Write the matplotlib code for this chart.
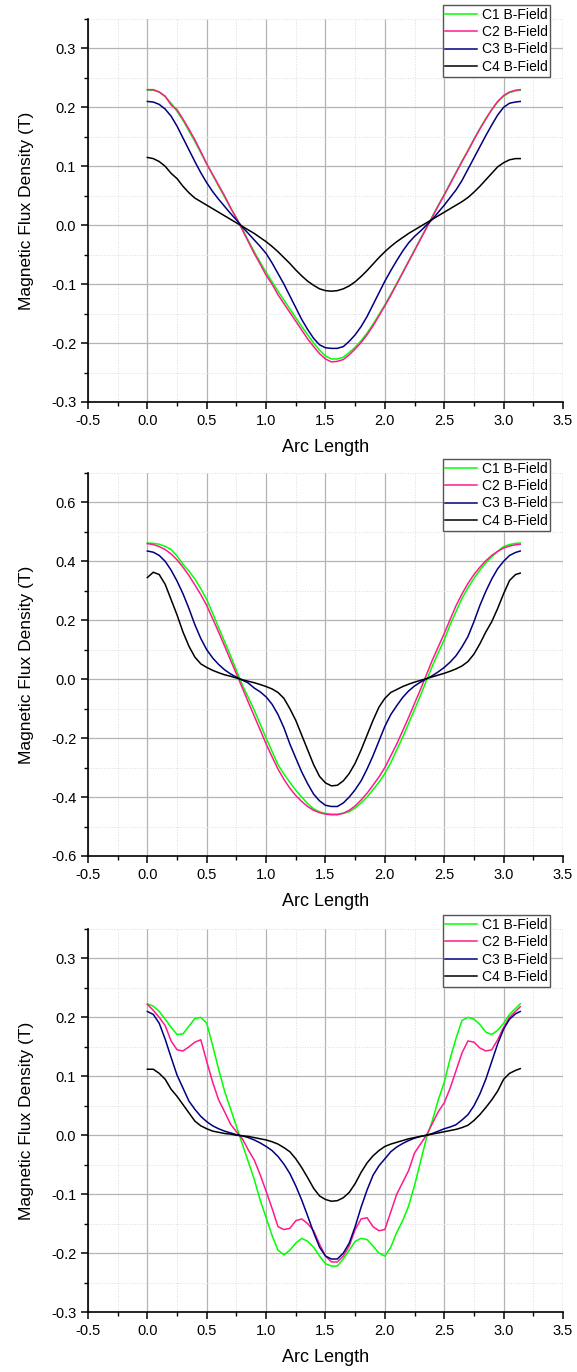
import numpy as np
import matplotlib
matplotlib.use("Agg")
import matplotlib.pyplot as plt
from matplotlib.ticker import MultipleLocator, FormatStrFormatter

plt.rcParams['font.family'] = ['Liberation Sans', 'DejaVu Sans']

# arc length samples (shared by all curves)
arc = [0.00, 0.05, 0.10, 0.15, 0.20, 0.25, 0.30, 0.35, 0.40, 0.45,
       0.50, 0.55, 0.60, 0.65, 0.70, 0.75, 0.80, 0.85, 0.90, 0.95,
       1.00, 1.05, 1.10, 1.15, 1.20, 1.25, 1.30, 1.35, 1.40, 1.45,
       1.50, 1.55, 1.60, 1.65, 1.70, 1.75, 1.80, 1.85, 1.90, 1.95,
       2.00, 2.05, 2.10, 2.15, 2.20, 2.25, 2.30, 2.35, 2.40, 2.45,
       2.50, 2.55, 2.60, 2.65, 2.70, 2.75, 2.80, 2.85, 2.90, 2.95,
       3.00, 3.05, 3.10, 3.14]

labels = ["C1 B-Field", "C2 B-Field", "C3 B-Field", "C4 B-Field"]
colors = ["#00ff00", "#ff1a8c", "#000080", "#000000"]

# --- panel 1 ---
p1_c1 = [0.229, 0.229, 0.226, 0.218, 0.207, 0.193, 0.178, 0.160, 0.142, 0.123,
         0.104, 0.085, 0.066, 0.048, 0.029, 0.012, -0.006, -0.026, -0.045, -0.063,
         -0.080, -0.096, -0.112, -0.127, -0.142, -0.157, -0.172, -0.186, -0.200, -0.212,
         -0.222, -0.227, -0.227, -0.224, -0.216, -0.207, -0.196, -0.183, -0.168, -0.152,
         -0.135, -0.117, -0.099, -0.080, -0.061, -0.042, -0.023, -0.004, 0.015, 0.034,
         0.052, 0.071, 0.090, 0.109, 0.127, 0.146, 0.164, 0.181, 0.196, 0.209,
         0.219, 0.225, 0.228, 0.229]
p1_c2 = [0.230, 0.230, 0.226, 0.219, 0.204, 0.196, 0.180, 0.163, 0.145, 0.125,
         0.104, 0.086, 0.068, 0.050, 0.030, 0.012, -0.008, -0.028, -0.048, -0.066,
         -0.085, -0.100, -0.118, -0.133, -0.148, -0.163, -0.178, -0.193, -0.206, -0.218,
         -0.227, -0.232, -0.231, -0.228, -0.220, -0.210, -0.199, -0.186, -0.171, -0.154,
         -0.137, -0.119, -0.100, -0.081, -0.062, -0.043, -0.024, -0.005, 0.014, 0.033,
         0.051, 0.070, 0.089, 0.108, 0.126, 0.145, 0.163, 0.180, 0.196, 0.210,
         0.220, 0.226, 0.229, 0.230]
p1_c3 = [0.210, 0.209, 0.205, 0.197, 0.185, 0.168, 0.148, 0.128, 0.108, 0.089,
         0.072, 0.057, 0.044, 0.032, 0.020, 0.009, -0.003, -0.014, -0.025, -0.036,
         -0.048, -0.064, -0.082, -0.100, -0.120, -0.140, -0.160, -0.177, -0.192, -0.203,
         -0.208, -0.209, -0.209, -0.206, -0.197, -0.186, -0.172, -0.155, -0.135, -0.115,
         -0.095, -0.077, -0.060, -0.044, -0.030, -0.019, -0.010, 0.000, 0.010, 0.022,
         0.034, 0.047, 0.060, 0.076, 0.095, 0.114, 0.133, 0.152, 0.170, 0.187,
         0.200, 0.207, 0.209, 0.210]
p1_c4 = [0.115, 0.113, 0.108, 0.100, 0.088, 0.079, 0.066, 0.055, 0.046, 0.040,
         0.034, 0.028, 0.022, 0.016, 0.010, 0.004, -0.002, -0.008, -0.014, -0.021,
         -0.028, -0.036, -0.045, -0.055, -0.065, -0.076, -0.086, -0.095, -0.102, -0.108,
         -0.111, -0.112, -0.111, -0.108, -0.103, -0.096, -0.087, -0.077, -0.066, -0.055,
         -0.045, -0.036, -0.028, -0.021, -0.014, -0.008, -0.002, 0.004, 0.010, 0.016,
         0.022, 0.028, 0.034, 0.040, 0.047, 0.056, 0.066, 0.077, 0.088, 0.099,
         0.106, 0.111, 0.113, 0.113]

# --- panel 2 ---
p2_c1 = [0.462, 0.461, 0.458, 0.451, 0.440, 0.418, 0.390, 0.367, 0.340, 0.307,
         0.270, 0.224, 0.175, 0.128, 0.080, 0.030, -0.020, -0.062, -0.105, -0.152,
         -0.200, -0.245, -0.290, -0.322, -0.350, -0.377, -0.400, -0.422, -0.440, -0.450,
         -0.456, -0.458, -0.458, -0.455, -0.450, -0.437, -0.420, -0.400, -0.375, -0.350,
         -0.320, -0.283, -0.240, -0.197, -0.150, -0.103, -0.055, -0.005, 0.045, 0.090,
         0.134, 0.185, 0.230, 0.275, 0.310, 0.342, 0.370, 0.395, 0.415, 0.434,
         0.450, 0.457, 0.461, 0.462]
p2_c2 = [0.460, 0.457, 0.450, 0.440, 0.425, 0.405, 0.380, 0.352, 0.320, 0.287,
         0.250, 0.205, 0.160, 0.113, 0.065, 0.018, -0.030, -0.078, -0.125, -0.172,
         -0.220, -0.263, -0.305, -0.340, -0.370, -0.395, -0.415, -0.432, -0.445, -0.453,
         -0.458, -0.460, -0.460, -0.455, -0.445, -0.430, -0.410, -0.387, -0.360, -0.332,
         -0.300, -0.260, -0.220, -0.175, -0.130, -0.082, -0.035, 0.015, 0.065, 0.110,
         0.155, 0.203, 0.250, 0.290, 0.325, 0.355, 0.380, 0.402, 0.420, 0.434,
         0.445, 0.452, 0.456, 0.458]
p2_c3 = [0.435, 0.431, 0.420, 0.400, 0.370, 0.333, 0.290, 0.240, 0.185, 0.138,
         0.100, 0.072, 0.050, 0.032, 0.018, 0.007, -0.003, -0.013, -0.030, -0.043,
         -0.060, -0.085, -0.120, -0.165, -0.220, -0.268, -0.315, -0.355, -0.390, -0.413,
         -0.428, -0.432, -0.432, -0.420, -0.400, -0.375, -0.345, -0.305, -0.260, -0.210,
         -0.160, -0.120, -0.090, -0.062, -0.040, -0.023, -0.010, 0.001, 0.012, 0.025,
         0.040, 0.058, 0.080, 0.110, 0.145, 0.195, 0.250, 0.298, 0.340, 0.375,
         0.400, 0.420, 0.430, 0.435]
p2_c4 = [0.345, 0.363, 0.355, 0.322, 0.270, 0.218, 0.160, 0.112, 0.075, 0.052,
         0.040, 0.030, 0.022, 0.015, 0.010, 0.004, -0.002, -0.007, -0.012, -0.018,
         -0.025, -0.033, -0.045, -0.065, -0.100, -0.140, -0.190, -0.240, -0.290, -0.330,
         -0.352, -0.362, -0.360, -0.345, -0.320, -0.285, -0.240, -0.190, -0.140, -0.095,
         -0.065, -0.045, -0.035, -0.025, -0.017, -0.010, -0.004, 0.002, 0.008, 0.014,
         0.020, 0.027, 0.035, 0.045, 0.060, 0.085, 0.120, 0.160, 0.195, 0.240,
         0.290, 0.335, 0.355, 0.360]

# --- panel 3 ---
p3_c1 = [0.223, 0.219, 0.210, 0.197, 0.183, 0.171, 0.172, 0.185, 0.198, 0.200,
         0.190, 0.152, 0.112, 0.075, 0.045, 0.015, -0.015, -0.045, -0.075, -0.110,
         -0.140, -0.170, -0.195, -0.203, -0.195, -0.183, -0.175, -0.180, -0.190, -0.205,
         -0.218, -0.222, -0.222, -0.210, -0.195, -0.180, -0.175, -0.177, -0.188, -0.200,
         -0.205, -0.190, -0.165, -0.145, -0.120, -0.085, -0.045, -0.005, 0.025, 0.060,
         0.090, 0.130, 0.165, 0.195, 0.200, 0.197, 0.188, 0.175, 0.171, 0.178,
         0.190, 0.205, 0.215, 0.223]
p3_c2 = [0.222, 0.212, 0.200, 0.186, 0.160, 0.145, 0.143, 0.150, 0.158, 0.162,
         0.125, 0.090, 0.060, 0.040, 0.019, 0.006, -0.006, -0.025, -0.042, -0.067,
         -0.095, -0.124, -0.155, -0.160, -0.158, -0.145, -0.142, -0.150, -0.162, -0.185,
         -0.205, -0.215, -0.215, -0.205, -0.188, -0.160, -0.142, -0.140, -0.155, -0.162,
         -0.160, -0.130, -0.100, -0.080, -0.060, -0.030, -0.015, 0.000, 0.020, 0.040,
         0.055, 0.080, 0.110, 0.140, 0.160, 0.158, 0.148, 0.143, 0.145, 0.162,
         0.183, 0.200, 0.210, 0.218]
p3_c3 = [0.210, 0.205, 0.190, 0.163, 0.132, 0.102, 0.080, 0.058, 0.044, 0.032,
         0.023, 0.016, 0.011, 0.007, 0.004, 0.001, -0.001, -0.004, -0.008, -0.013,
         -0.019, -0.026, -0.036, -0.049, -0.065, -0.086, -0.110, -0.137, -0.165, -0.190,
         -0.205, -0.210, -0.210, -0.200, -0.183, -0.155, -0.122, -0.093, -0.068, -0.052,
         -0.040, -0.028, -0.020, -0.014, -0.009, -0.005, -0.002, 0.000, 0.003, 0.007,
         0.011, 0.014, 0.018, 0.026, 0.035, 0.050, 0.070, 0.095, 0.125, 0.155,
         0.180, 0.197, 0.206, 0.210]
p3_c4 = [0.112, 0.112, 0.105, 0.095, 0.078, 0.066, 0.052, 0.038, 0.024, 0.016,
         0.011, 0.007, 0.005, 0.003, 0.002, 0.000, -0.001, -0.002, -0.004, -0.006,
         -0.008, -0.011, -0.015, -0.021, -0.028, -0.040, -0.055, -0.072, -0.090, -0.103,
         -0.109, -0.112, -0.111, -0.106, -0.097, -0.082, -0.063, -0.047, -0.035, -0.026,
         -0.019, -0.015, -0.012, -0.009, -0.006, -0.004, -0.002, 0.000, 0.002, 0.004,
         0.006, 0.008, 0.010, 0.013, 0.017, 0.025, 0.035, 0.047, 0.060, 0.075,
         0.095, 0.105, 0.110, 0.113]

panels = [
    ([p1_c1, p1_c2, p1_c3, p1_c4], (-0.3, 0.35), 0.1),
    ([p2_c1, p2_c2, p2_c3, p2_c4], (-0.6, 0.7), 0.2),
    ([p3_c1, p3_c2, p3_c3, p3_c4], (-0.3, 0.35), 0.1),
]

fig = plt.figure(figsize=(5.77, 13.72), dpi=100)
bottoms = [0.7070, 0.3761, 0.0437]

for (series, ylim, ystep), b in zip(panels, bottoms):
    ax = fig.add_axes([0.1525, b, 0.8232, 0.2792])
    for y, lab, col in zip(series, labels, colors):
        ax.plot(arc, y, color=col, lw=1.1, label=lab)

    ax.set_xlim(-0.5, 3.5)
    ax.xaxis.set_major_locator(MultipleLocator(0.5))
    ax.xaxis.set_minor_locator(MultipleLocator(0.25))
    ax.yaxis.set_major_locator(MultipleLocator(ystep))
    ax.yaxis.set_minor_locator(MultipleLocator(ystep / 2))
    ax.yaxis.set_major_formatter(FormatStrFormatter('%.1f'))
    ax.xaxis.set_major_formatter(FormatStrFormatter('%.1f'))
    ax.set_ylim(*ylim)

    ax.grid(which='major', color='#b4b4b4', lw=0.9, ls='-')
    ax.grid(which='minor', color='#dcdcdc', lw=0.7, ls=':')
    ax.set_axisbelow(True)

    for s in ['top', 'right']:
        ax.spines[s].set_visible(False)
    for s in ['left', 'bottom']:
        ax.spines[s].set_linewidth(1.2)
    ax.tick_params(which='major', direction='out', length=5, width=1.1, labelsize=10.5)
    ax.tick_params(which='minor', direction='out', length=3, width=1.0)

    ax.set_xlabel("Arc Length", fontsize=13, labelpad=8)
    ax.set_ylabel("Magnetic Flux Density (T)", fontsize=12.5, labelpad=12)

    leg = ax.legend(loc='upper right', bbox_to_anchor=(0.973, 1.037), borderaxespad=0,
                    fontsize=10, fancybox=False, framealpha=1, edgecolor='#555555',
                    handlelength=2.3, handletextpad=0.3, labelspacing=0.25, borderpad=0.2)
    leg.get_frame().set_linewidth(1.0)

fig.savefig("out.png", dpi=100)
